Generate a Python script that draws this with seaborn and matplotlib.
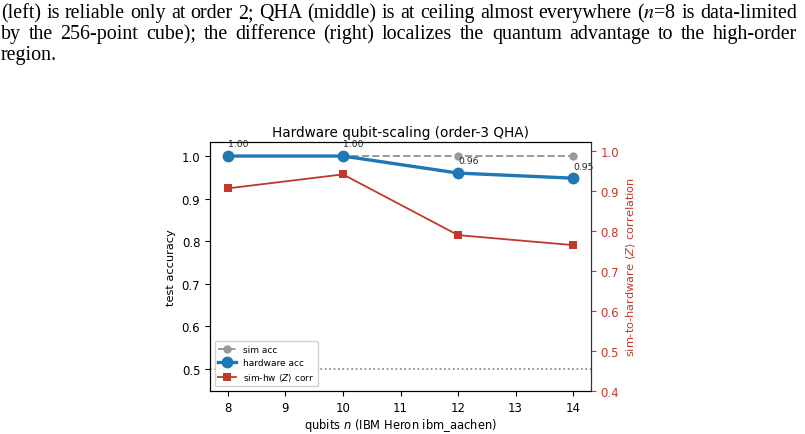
import matplotlib
matplotlib.use("Agg")
import matplotlib.pyplot as plt
import seaborn as sns
import numpy as np

qubits = [8, 10, 12, 14]
sim_acc = [1.00, 1.00, 1.00, 1.00]
hw_acc = [1.00, 1.00, 0.96, 0.948]
sim_hw_corr = [0.907, 0.942, 0.790, 0.765]
left_ticks = [0.5, 0.6, 0.7, 0.8, 0.9, 1.0]
right_ticks = [0.4, 0.5, 0.6, 0.7, 0.8, 0.9, 1.0]
x_ticks = [8, 9, 10, 11, 12, 13, 14]

caption_lines = [
    r"(left) is reliable only at order 2; QHA (middle) is at ceiling almost everywhere ($n$=8 is data-limited",
    r"by the 256-point cube); the difference (right) localizes the quantum advantage to the high-order",
    r"region.",
]

GRAY = "#999999"
BLUE = "#1f77b4"
RED = "#c0392b"

W, H = 805, 435
fig = plt.figure(figsize=(W / 100, H / 100), dpi=100)
renderer = fig.canvas.get_renderer()

# ---- caption text (justified) ----
def px(x, y):
    return x / W, 1 - y / H

probe = fig.text(0, 0, caption_lines[0], fontsize=14, family="Liberation Serif",
                 math_fontfamily="stix")
wid = probe.get_window_extent(renderer).width
probe.remove()
fs = 14 * 792 / wid

baselines = [18, 39, 60]
x0, x1 = 1, 797
for i, line in enumerate(caption_lines):
    words = line.split(" ")
    texts = [fig.text(0, 0, w, fontsize=fs, family="Liberation Serif",
                      math_fontfamily="stix", va="baseline", ha="left") for w in words]
    widths = [t.get_window_extent(renderer).width for t in texts]
    if i < 2 and len(words) > 1:
        gap = (x1 - x0 - sum(widths)) / (len(words) - 1)
    else:
        sp = fig.text(0, 0, "a a", fontsize=fs, family="Liberation Serif")
        sp2 = fig.text(0, 0, "aa", fontsize=fs, family="Liberation Serif")
        gap = sp.get_window_extent(renderer).width - sp2.get_window_extent(renderer).width
        sp.remove(); sp2.remove()
    xc = x0
    for t, w in zip(texts, widths):
        t.set_position(px(xc, baselines[i]))
        xc += w + gap

# ---- chart ----
ax = fig.add_axes([210 / W, 43 / H, 381 / W, 249 / H])
ax2 = ax.twinx()

sns.lineplot(x=qubits, y=sim_acc, ax=ax, color=GRAY, marker="o", linestyle="--",
             linewidth=1.4, markersize=6, markeredgecolor=GRAY, markeredgewidth=0,
             label="sim acc")
sns.lineplot(x=qubits, y=hw_acc, ax=ax, color=BLUE, marker="o", linewidth=2.4,
             markersize=8.5, markeredgecolor=BLUE, markeredgewidth=0,
             label="hardware acc")
sns.lineplot(x=qubits, y=sim_hw_corr, ax=ax2, color=RED, marker="s", linewidth=1.3,
             markersize=6, markeredgecolor=RED, markeredgewidth=0,
             label=r"sim-hw $\langle Z\rangle$ corr")

ax.axhline(0.5, color="gray", linestyle=":", linewidth=1.2)

for xq, v in zip(qubits, hw_acc):
    ax.annotate(f"{v:.2f}", (xq, v), xytext=(0, 5.5), textcoords="offset points",
                ha="left", va="bottom", fontsize=6.7, color="#222222")

ax.set_xlim(7.69, 14.31)
ax.set_ylim(0.448, 1.033)
ax2.set_ylim(0.4, 1.023)
ax.set_xticks(x_ticks)
ax.set_yticks(left_ticks)
ax2.set_yticks(right_ticks)
ax.tick_params(labelsize=8.5)
ax2.tick_params(axis="y", labelsize=8.5, colors=RED)
ax2.spines["right"].set_color("#333333")

ax.set_xlabel(r"qubits $n$ (IBM Heron ibm_aachen)", fontsize=8.3, labelpad=1.5)
ax.set_ylabel("test accuracy", fontsize=8.2)
ax2.set_ylabel(r"sim-to-hardware $\langle Z\rangle$ correlation", fontsize=8.2, color=RED)
ax.set_title("Hardware qubit-scaling (order-3 QHA)", fontsize=9.8, pad=4)

h1, l1 = ax.get_legend_handles_labels()
h2, l2 = ax2.get_legend_handles_labels()
if ax2.get_legend() is not None:
    ax2.get_legend().remove()
ax.legend(h1 + h2, l1 + l2, loc="lower left", fontsize=6.5, framealpha=0.9)

fig.savefig("out.png", dpi=100)
